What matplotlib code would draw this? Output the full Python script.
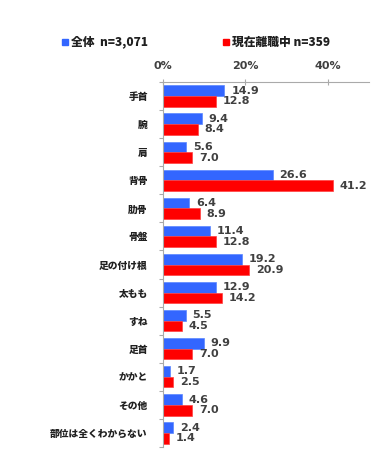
import matplotlib
matplotlib.use("Agg")
import matplotlib.pyplot as plt
from matplotlib.patches import Rectangle

plt.rcParams['font.family'] = ['Noto Sans CJK JP', 'DejaVu Sans']

categories = ["手首", "腕", "肩", "背骨", "肋骨", "骨盤", "足の付け根", "太もも", "すね", "足首", "かかと", "その他", "部位は全くわからない"]
all_vals = [14.9, 9.4, 5.6, 26.6, 6.4, 11.4, 19.2, 12.9, 5.5, 9.9, 1.7, 4.6, 2.4]
cur_vals = [12.8, 8.4, 7.0, 41.2, 8.9, 12.8, 20.9, 14.2, 4.5, 7.0, 2.5, 7.0, 1.4]
series_names = ["全体  n=3,071", "現在離職中 n=359"]
xticks = [0, 20, 40]
xtick_labels = ["0%", "20%", "40%"]

blue = "#3366FF"
red = "#FF0000"
txtc = "#404040"

fig = plt.figure(figsize=(3.72, 4.5), dpi=100)
ax = fig.add_axes([163/372, 3/450, (369-163)/372, (447-82)/450])

n = len(categories)
pos = list(range(n))
h = 0.38
off = 0.19
ax.barh([p - off for p in pos], all_vals, height=h, color=blue, edgecolor="#5a86ff", linewidth=0.5)
ax.barh([p + off for p in pos], cur_vals, height=h, color=red, edgecolor="#ff4040", linewidth=0.5)

for p, v in zip(pos, all_vals):
    ax.text(v + 1.7, p - off, f"{v:.1f}", va="center", ha="left", fontsize=8,
            fontweight="bold", color=txtc, family="DejaVu Sans")
for p, v in zip(pos, cur_vals):
    ax.text(v + 1.7, p + off, f"{v:.1f}", va="center", ha="left", fontsize=8,
            fontweight="bold", color=txtc, family="DejaVu Sans")

ax.set_xlim(0, 50)
ax.set_ylim(n - 0.5, -0.5)

ax.xaxis.tick_top()
ax.set_xticks(xticks)
ax.set_xticklabels(xtick_labels, fontsize=8, fontweight="bold", color=txtc, family="DejaVu Sans")
ax.tick_params(axis="x", which="major", length=4, color="#aaaaaa", pad=6, direction="inout")

ax.set_yticks([i - 0.5 for i in range(n + 1)])
ax.set_yticklabels([])
ax.tick_params(axis="y", which="major", length=3, color="#aaaaaa")
ax.set_yticks(pos, minor=True)
ax.set_yticklabels(categories, minor=True, fontsize=7, fontweight="heavy", color="#202020")
ax.tick_params(axis="y", which="minor", length=0, pad=11)

for s in ["right", "bottom"]:
    ax.spines[s].set_visible(False)
ax.spines["top"].set_color("#aaaaaa")
ax.spines["left"].set_color("#aaaaaa")

# legend
fig.patches.append(Rectangle((62/372, 1 - 45/450), 6/372, 6/450, transform=fig.transFigure, color=blue))
fig.text(71/372, 1 - 42/450, series_names[0], fontsize=8.5, fontweight="heavy", va="center", ha="left", color="#202020")
fig.patches.append(Rectangle((223/372, 1 - 45/450), 6/372, 6/450, transform=fig.transFigure, color=red))
fig.text(232/372, 1 - 42/450, series_names[1], fontsize=8.5, fontweight="heavy", va="center", ha="left", color="#202020")

fig.savefig("out.png", dpi=100)
